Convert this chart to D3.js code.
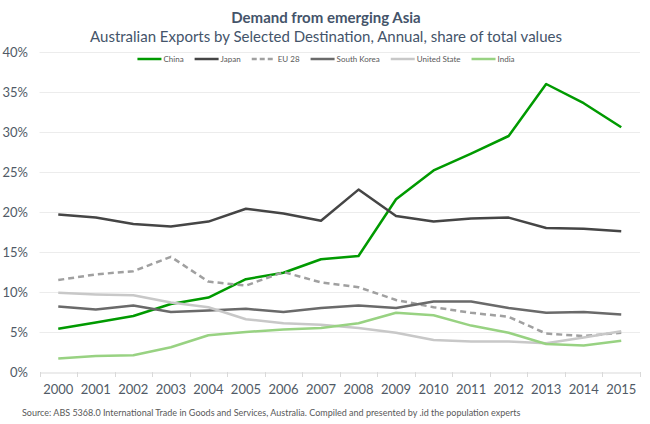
<!DOCTYPE html>
<html><head><meta charset="utf-8">
<script src="https://cdn.jsdelivr.net/npm/d3@7"></script>
<style>body{margin:0;background:#fff}svg{display:block;font-family:Lato,"Open Sans",sans-serif}</style>
</head><body><svg id="c" width="650" height="424"></svg>
<script>
const years = ["2000","2001","2002","2003","2004","2005","2006","2007","2008","2009","2010","2011","2012","2013","2014","2015"];
const china = [5.4,6.2,7.0,8.5,9.3,11.6,12.4,14.1,14.5,21.6,25.2,27.3,29.5,36.0,33.6,30.6];
const japan = [19.7,19.3,18.5,18.2,18.8,20.4,19.8,18.9,22.8,19.5,18.8,19.2,19.3,18.0,17.9,17.6];
const eu28 = [11.5,12.2,12.6,14.4,11.3,10.8,12.5,11.2,10.6,9.0,8.1,7.4,6.9,4.8,4.5,4.9];
const southKorea = [8.2,7.8,8.3,7.5,7.7,7.9,7.5,8.0,8.3,8.0,8.8,8.8,8.0,7.4,7.5,7.2];
const unitedState = [9.9,9.7,9.6,8.7,8.1,6.6,6.1,5.9,5.5,4.9,4.0,3.8,3.8,3.6,4.3,5.1];
const india = [1.7,2.0,2.1,3.1,4.6,5.0,5.3,5.5,6.1,7.4,7.1,5.8,4.9,3.5,3.3,3.9];
const yTicks = [0,5,10,15,20,25,30,35,40];

const series = [
  {name:"China", values:china, color:"#009a00", dash:null},
  {name:"Japan", values:japan, color:"#454545", dash:null},
  {name:"EU 28", values:eu28, color:"#a0a0a0", dash:"6,4"},
  {name:"South Korea", values:southKorea, color:"#6a6a6a", dash:null},
  {name:"United State", values:unitedState, color:"#c8c8c8", dash:null},
  {name:"India", values:india, color:"#98d282", dash:null}
];

const svg = d3.select("#c");
const L = 39.5, R = 640, T = 52, B = 372;
const x = d3.scaleBand().domain(years).range([L, R]);
const y = d3.scaleLinear().domain([0,40]).range([B, T]);

svg.append("text").attr("x",326).attr("y",23).attr("text-anchor","middle")
  .attr("font-size",15).attr("font-weight","bold").attr("fill","#44546a").text("Demand from emerging Asia");
svg.append("text").attr("x",326).attr("y",42).attr("text-anchor","middle")
  .attr("font-size",15).attr("fill","#44546a").text("Australian Exports by Selected Destination, Annual, share of total values");

// grid
svg.append("g").selectAll("line").data(yTicks.filter(d=>d>0)).join("line")
  .attr("x1",L).attr("x2",R).attr("y1",d=>Math.round(y(d))+0.5).attr("y2",d=>Math.round(y(d))+0.5)
  .attr("stroke","#ececec").attr("stroke-width",1);

// y labels
svg.append("g").selectAll("text").data(yTicks).join("text")
  .attr("x",28).attr("y",d=>y(d)+5).attr("text-anchor","end")
  .attr("font-size",13).attr("fill","#505a66").text(d=>d+"%");

// x axis
const xa = svg.append("g").attr("transform",`translate(0,${B+0.5})`)
  .call(d3.axisBottom(x).tickSize(0).tickPadding(12));
xa.select(".domain").attr("stroke","#d9d9d9");
xa.selectAll("text").attr("font-size",13).attr("fill","#505a66").attr("font-family","Lato,'Open Sans',sans-serif");
const bounds = years.map(d=>x(d)).concat([R]);
svg.append("g").selectAll("line").data(bounds).join("line")
  .attr("x1",d=>Math.round(d)+0.5).attr("x2",d=>Math.round(d)+0.5).attr("y1",B).attr("y2",B+5)
  .attr("stroke","#d9d9d9");

// lines
const line = d3.line().x((d,i)=>x(years[i])+x.bandwidth()/2).y(d=>y(d));
svg.append("g").selectAll("path").data(series).join("path")
  .attr("d",d=>line(d.values)).attr("fill","none")
  .attr("stroke",d=>d.color).attr("stroke-width",2.5)
  .attr("stroke-dasharray",d=>d.dash).attr("stroke-linejoin","round");

// legend
const lg = svg.append("g");
let lx = 0;
series.forEach(s=>{
  const g = lg.append("g").attr("transform",`translate(${lx},0)`);
  g.append("line").attr("x1",0).attr("x2",24).attr("y1",0).attr("y2",0)
    .attr("stroke",s.color).attr("stroke-width",2.5).attr("stroke-dasharray",s.dash?"5,3":null);
  const t = g.append("text").attr("x",26).attr("y",3).attr("font-size",8).attr("fill","#595959").text(s.name);
  lx += 26 + t.node().getComputedTextLength() + 11;
});
lg.attr("transform",`translate(${326 - (lx-11)/2},59)`);

svg.append("text").attr("x",22).attr("y",416).attr("font-size",9).attr("fill","#595959")
  .text("Source: ABS 5368.0 International Trade in Goods and Services, Australia. Compiled and presented by .id the population experts");
</script></body></html>
